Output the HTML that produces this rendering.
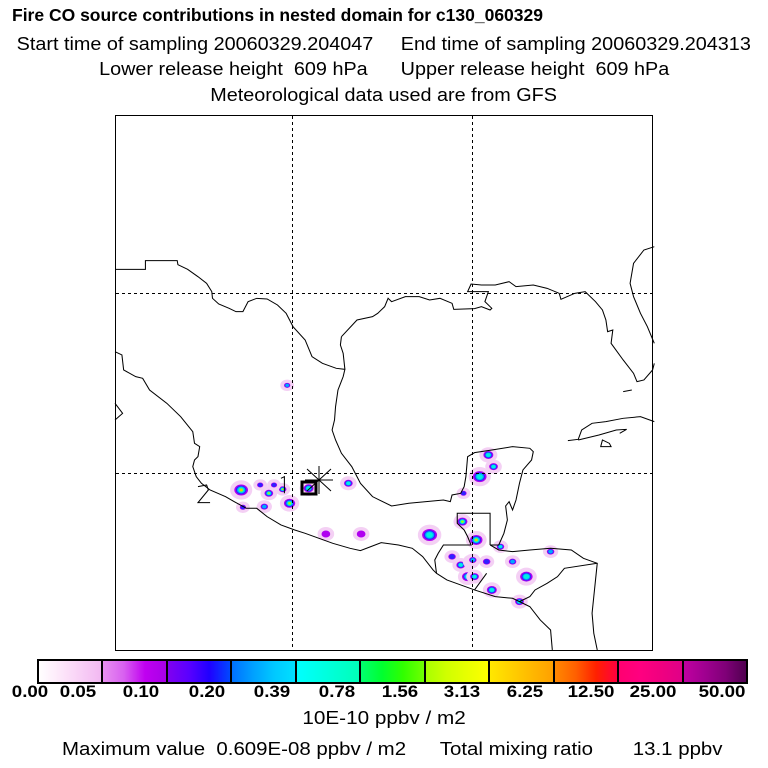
<!DOCTYPE html>
<html><head><meta charset="utf-8"><style>
body{margin:0;background:#fff;width:768px;height:768px;overflow:hidden;position:relative;font-family:"Liberation Sans",sans-serif;}
.t{position:absolute;white-space:pre;color:#000;font-size:18px;}
.c{left:0;width:768px;text-align:center;}
.c span{display:inline-block;transform:scaleX(1.1);}
</style></head><body>
<div class="t" style="left:12px;top:5px;font-weight:bold;font-size:17.5px;">Fire CO source contributions in nested domain for c130_060329</div>
<div class="t c" style="top:34px;"><span>Start time of sampling 20060329.204047     End time of sampling 20060329.204313</span></div>
<div class="t c" style="top:59px;"><span>Lower release height  609 hPa      Upper release height  609 hPa</span></div>
<div class="t c" style="top:85px;"><span>Meteorological data used are from GFS</span></div>

<svg width="768" height="768" style="position:absolute;left:0;top:0">
<rect x="115.5" y="115.5" width="537" height="535" fill="none" stroke="#000"/>
<g id="plumes" transform="translate(115,230) scale(0.3457,0.3333)"></g>
<g stroke="#000" stroke-dasharray="3,3" stroke-width="1">
<line x1="292.5" y1="116" x2="292.5" y2="650"/><line x1="472.5" y1="116" x2="472.5" y2="650"/>
<line x1="116" y1="293.5" x2="652" y2="293.5"/><line x1="116" y1="473.5" x2="652" y2="473.5"/>
</g>
<g transform="translate(115,230) scale(0.3457,0.3333)" fill="none" stroke="#000" stroke-width="3">
<path d="M0,118 L88,118 88,92 180,92 182,104 210,118 240,140 265,160 280,185 282,205 300,222 330,235 350,245 370,245 385,215 410,205 440,207 470,225 495,250 515,290 550,330 570,380 600,400 640,415 665,418 660,440 645,480 638,530 635,570 628,600 638,630 655,670 685,710 710,760 745,800 800,828 850,820 900,815 950,810 970,815 975,795 1000,790 1010,770 1015,740 1020,680 1040,668 1090,660 1150,650 1200,655 1210,665 1205,690 1180,720 1170,760 1160,810 1150,840 1140,815 1130,828 1135,870 1125,910 1110,945 1085,945"/>
<path d="M1085,945 L1085,850 990,850 990,880 1010,900 1020,920 1030,945 950,945 935,970 925,990 930,1030 960,1050 1000,1065 1040,1080 1100,1100 1150,1105 1170,1115 1200,1130 1230,1170 1260,1200 1265,1260"/>
<path d="M1085,945 L1110,960 1150,965 1200,960 1260,955 1320,960 1355,985 1395,1000 1390,1050 1385,1100 1380,1150 1385,1210 1395,1260"/>
<path d="M1040,1080 L1075,1030 M1395,1000 L1300,1015 1280,1040 1250,1060 1215,1080 1200,1100 1170,1115"/>
<path d="M0,365 L20,375 25,420 60,440 80,445 100,480 150,520 190,560 225,605 230,640 245,650 240,680 230,690 225,710 235,740 250,760 275,780 320,800 345,815 380,835 410,835 440,860 480,885 520,900 550,910 590,925 630,940 680,955 710,962 740,950 770,938 820,945 860,955 890,980 920,1020 930,1030"/>
<path d="M0,520 L22,550 0,570"/>
<path d="M655,320 L700,270 745,260 760,250 780,230 790,205 800,215 840,200 880,200 910,210 940,205 975,220 980,238 1040,236 1060,230 1085,240 1090,235 1070,215 1080,185 1020,185 1030,162 1060,165 1100,165 1140,155 1160,170 1210,165 1250,175 1285,190 1290,208 1330,190 1360,185 1390,215 1410,240 1420,270 1425,305 1440,300 1435,340 1470,390 1500,430 1510,455 1530,450 1555,420 1560,400"/>
<path d="M655,320 L652,345 660,370 665,418"/>
<path d="M1560,50 L1530,60 1500,100 1490,160 1500,200 1520,250 1540,290 1560,340"/>
<path d="M1310,632 L1340,628 1350,600 1380,580 1420,575 1470,565 1520,560 1560,575 M1340,630 L1400,615 1450,600 1480,598 1460,610 M1405,650 L1410,630 1430,640 1435,650 Z M1470,485 L1495,480"/>
<path d="M240,770 L265,765 270,780 240,818 275,818 M480,745 L490,740 490,790"/>
</g>
<g stroke="#000">
<rect x="302" y="482" width="14" height="12" fill="none" stroke-width="3"/>
<g stroke-width="1"><line x1="307" y1="469" x2="331" y2="491"/><line x1="331" y1="469" x2="307" y2="491"/><line x1="319" y1="466" x2="319" y2="494"/><line x1="305" y1="480" x2="333" y2="480"/></g>
</g>
</svg>

<div id="cbar" style="position:absolute;left:37px;top:659px;width:707px;height:21px;border:2px solid #000;display:flex;box-sizing:content-box;"></div>
<div id="cbl"></div>
<div class="t c" style="top:708px;"><span style="transform:scaleX(1.15)">10E-10 ppbv / m2</span></div>
<div class="t" style="left:62px;top:739px;transform-origin:0 0;transform:scaleX(1.135);">Maximum value  0.609E-08 ppbv / m2      Total mixing ratio       13.1 ppbv</div>

<script>
const segColors=[
["#ffffff","#fde8fa","#f8d0f6","#f2b8f2"],
["#e890f0","#d860f0","#c000f0","#a800e8"],
["#8000f0","#5a00ff","#2000ff","#0048ff"],
["#0070ff","#00a0ff","#00c8ff","#00e0ff"],
["#00ffff","#00ffe8","#00ffd0","#00ffb8"],
["#00ff70","#00ff30","#30ff00","#70ff00"],
["#a8ff00","#d0ff00","#e8ff00","#ffff00"],
["#ffe800","#ffd000","#ffb800","#ffa000"],
["#ff8800","#ff6000","#ff2000","#ff0040"],
["#ff0070","#ff0080","#f00080","#e00088"],
["#c000a0","#a00090","#800078","#500050"]];
const tickLabels=["0.00","0.05","0.10","0.20","0.39","0.78","1.56","3.13","6.25","12.50","25.00","50.00"];
const tickCenters=[30,78,141,207,272,337,400,462,525,591,653,722];
const cb=document.getElementById('cbar');
segColors.forEach((c,i)=>{const d=document.createElement('div');


d.style.cssText='flex:1;height:100%;background:linear-gradient(to right,'+c.join(',')+');'+(i?'border-left:2px solid #000;':'');cb.appendChild(d);});
const lc=document.getElementById('cbl');
tickLabels.forEach((t,i)=>{const d=document.createElement('div');


d.className='t';d.textContent=t;d.style.cssText='font-weight:bold;font-size:17px;top:682px;width:60px;text-align:center;transform:scaleX(1.1);left:'+(tickCenters[i]-30)+'px';lc.appendChild(d);});
const blobX=[365,445,485,505,560,675,1080,1055,1095,1005,1045,910,1000,1030,1020,1040,1090,1190,1115,1170,1260,498,420,460,370,432,610,712,1008,975,1150,1075,1035];
const blobY=[780,790,778,820,775,760,675,740,710,875,930,915,1005,995,1040,1040,1080,1040,950,1115,965,466,765,765,832,830,912,912,790,980,995,995,990];
const blobR=[22,14,12,18,16,14,16,22,14,16,20,24,14,14,18,14,16,20,12,14,12,10,10,10,10,12,14,14,10,12,12,12,12];
const blobLv=[7,6,7,6,4,4,4,5,4,6,7,5,5,4,4,4,4,5,4,4,3,3,2,2,2,3,1,1,2,2,3,2,3];
const pg=document.getElementById('plumes');
function blob(x,y,rx,ry,col){const c=document.createElementNS('http://www.w3.org/2000/svg','ellipse');


c.setAttribute('cx',x);c.setAttribute('cy',y);c.setAttribute('rx',rx);c.setAttribute('ry',ry);c.setAttribute('fill',col);pg.appendChild(c);}
blobX.forEach((x,i)=>{
 const lv=blobLv[i],r=blobR[i],y=blobY[i];
 blob(x,y,r+10,r+7,'#f4d0f4');
 blob(x,y,r*0.9,r*0.75,'#b000f0');
 if(lv>=2)blob(x,y,r*0.7,r*0.6,'#3020ff');
 if(lv>=3)blob(x,y,r*0.55,r*0.47,'#00a8ff');
 if(lv>=4)blob(x,y,r*0.4,r*0.35,'#00f0e0');
 if(lv>=6)blob(x,y,r*0.25,r*0.22,'#a0ff00');
 if(lv>=7)blob(x,y,r*0.15,r*0.14,'#ffc000');
});
</script>
</body></html>
